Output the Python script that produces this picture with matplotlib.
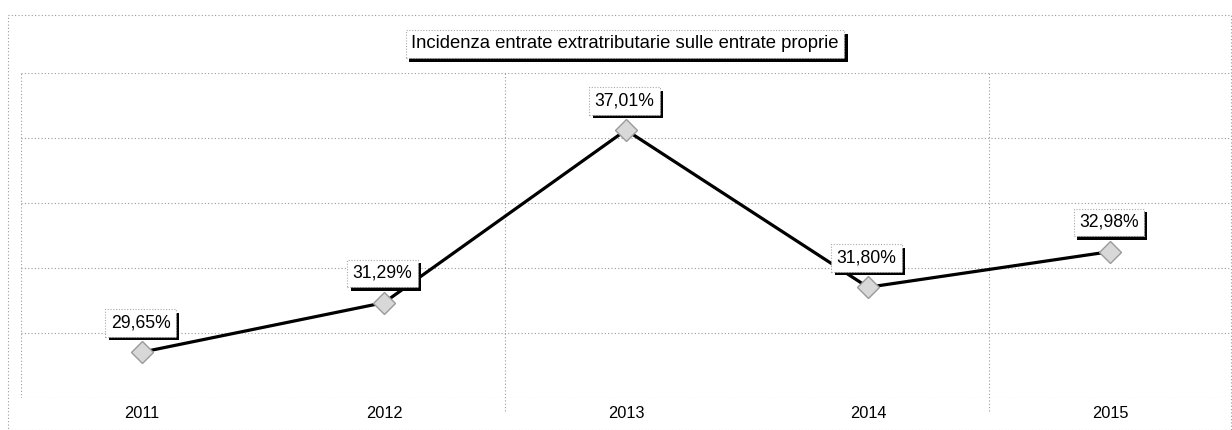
import matplotlib
matplotlib.use("Agg")
import matplotlib.pyplot as plt
from matplotlib.patches import Rectangle
import matplotlib.patheffects as pe

plt.rcParams['font.family'] = ['Liberation Sans', 'DejaVu Sans']

years = ["2011", "2012", "2013", "2014", "2015"]
values = [29.65, 31.29, 37.01, 31.80, 32.98]
labels = ["29,65%", "31,29%", "37,01%", "31,80%", "32,98%"]
title = "Incidenza entrate extratributarie sulle entrate proprie"

W, H = 1232, 430
fig = plt.figure(figsize=(W / 100, H / 100), dpi=100)
ax = fig.add_axes([21 / W, 1 - 398 / H, 1210 / W, 325 / H])

x = list(range(len(years)))
ymin, ymax = 28.13, 38.90
ax.set_xlim(-0.5, len(years) - 0.5)
ax.set_ylim(ymin, ymax)

# gridlines
grid_kw = dict(color="#999999", linestyle=(0, (1, 2)), linewidth=0.8, zorder=1)
step = (ymax - ymin) / 5
for i in range(6):
    ax.axhline(ymin + i * step, **grid_kw)
for xv in [1.5, 3.5]:
    ax.axvline(xv, ymin=-0.04, ymax=1.0, clip_on=False, **grid_kw)
ax.axvline(-0.5, **grid_kw)

for s in ax.spines.values():
    s.set_visible(False)

ax.plot(x, values, color="black", linewidth=2.3, zorder=3)
ax.plot(x, values, linestyle="none", marker="D", markersize=11,
        markerfacecolor="#d8d8d8", markeredgecolor="#9a9a9a",
        markeredgewidth=1.0, zorder=4)

ax.set_xticks(x)
ax.set_xticklabels(years, fontsize=11.8)
ax.set_yticks([])
ax.tick_params(axis="x", length=0, pad=6)


def boxed(text, xy, xycoords, offset, fontsize, pad):
    t = ax.annotate(text, xy=xy, xycoords=xycoords, xytext=offset,
                    textcoords="offset points", ha="center", va="center",
                    fontsize=fontsize, annotation_clip=False, color="black", zorder=6,
                    bbox=dict(boxstyle=f"square,pad={pad}", fc="white", ec="#aaaaaa",
                              lw=0.8, linestyle=(0, (1, 1.5))))
    t.get_bbox_patch().set_path_effects([
        pe.SimplePatchShadow(offset=(2.6, -2.6), shadow_rgbFace="black", alpha=1.0),
        pe.Normal()])
    return t


for xi, v, lab in zip(x, values, labels):
    boxed(lab, (xi, v), "data", (-1, 21), 12.7, 0.3)

boxed(title, (625 / W, 1 - 44 / H), "figure fraction", (0, 0), 13.3, 0.3)

# outer dotted border
fig.patches.append(Rectangle((8 / W, 0), (1231 - 8) / W, 1 - 15 / H,
                             transform=fig.transFigure, fill=False,
                             ec="#999999", lw=0.8, linestyle=(0, (1, 2))))

fig.savefig("out.png", dpi=100)
